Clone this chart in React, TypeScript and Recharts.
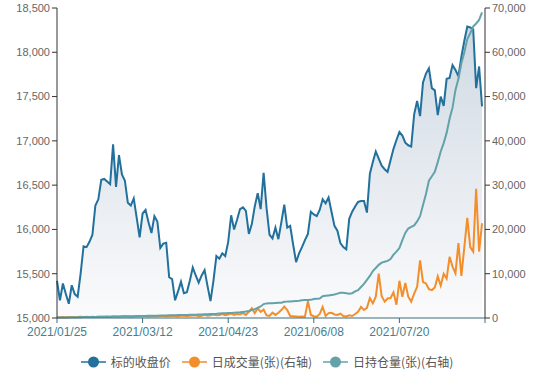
import { ComposedChart, Area, Line, XAxis, YAxis } from 'recharts';

const FONT = "'Noto Sans CJK SC', 'Noto Sans', sans-serif";
const AXIS_FONT = "'Liberation Sans', Arial, sans-serif";
const BLUE = '#22709c';
const ORANGE = '#f28e2b';
const TEAL = '#63a2aa';

// trading days, 2021
const tradeDays = (
  '01/25 01/26 01/27 01/28 01/29 ' +
  '02/01 02/02 02/03 02/04 02/05 02/08 02/09 02/10 02/18 02/19 02/22 02/23 02/24 02/25 02/26 ' +
  '03/01 03/02 03/03 03/04 03/05 03/08 03/09 03/10 03/11 03/12 03/15 03/16 03/17 03/18 03/19 03/22 03/23 03/24 03/25 03/26 03/29 03/30 03/31 ' +
  '04/01 04/02 04/06 04/07 04/08 04/09 04/12 04/13 04/14 04/15 04/16 04/19 04/20 04/21 04/22 04/23 04/26 04/27 04/28 04/29 04/30 ' +
  '05/06 05/07 05/10 05/11 05/12 05/13 05/14 05/17 05/18 05/19 05/20 05/21 05/24 05/25 05/26 05/27 05/28 05/31 ' +
  '06/01 06/02 06/03 06/04 06/07 06/08 06/09 06/10 06/11 06/15 06/16 06/17 06/18 06/21 06/22 06/23 06/24 06/25 06/28 06/29 06/30 ' +
  '07/01 07/02 07/05 07/06 07/07 07/08 07/09 07/12 07/13 07/14 07/15 07/16 07/19 07/20 07/21 07/22 07/23 07/26 07/27 07/28 07/29 07/30 ' +
  '08/02 08/03 08/04 08/05 08/06 08/09 08/10 08/11 08/12 08/13 08/16 08/17 08/18 08/19 08/20 08/23 08/24 08/25 08/26 08/27 08/30'
).split(' ');
const dates = tradeDays.map((d) => '2021/' + d);

// 标的收盘价
const closePrice = [
  15420, 15200, 15390, 15270, 15160, 15370, 15270, 15240, 15500, 15810,
  15800, 15860, 15940, 16270, 16340, 16560, 16570, 16540, 16510, 16960,
  16480, 16840, 16620, 16550, 16300, 16270, 16350, 16130, 15910, 16180,
  16220, 16080, 15960, 16150, 16090, 15790, 15840, 15850, 15460, 15440,
  15200, 15300, 15410, 15280, 15290, 15420, 15570, 15480, 15400, 15480,
  15540, 15360, 15190, 15420, 15700, 15670, 15730, 15700, 15860, 16160,
  16000, 16110, 16230, 16250, 16210, 15950, 16060, 16260, 16410, 16230,
  16640, 16240, 15940, 15900, 16020, 15890, 16080, 16280, 16020, 16040,
  15830, 15630, 15730, 15800, 15880, 15950, 16200, 16170, 16150, 16220,
  16340, 16295, 16360, 16200, 16040, 15985, 15845, 15800, 15775, 16120,
  16200, 16260, 16310, 16320, 16320, 16190, 16630, 16760, 16880, 16800,
  16720, 16680, 16650, 16780, 16910, 17010, 17100, 17060, 16980, 16950,
  16935, 17300, 17450, 17280, 17660, 17760, 17820, 17595, 17570, 17290,
  17500, 17395, 17700, 17710, 17855, 17800, 17730, 17950, 18130, 18290,
  18280, 18260, 17595, 17840, 17390, null,
];

// 日成交量(张)
const volume = [
  180, 150, 220, 160, 200, 240, 190, 210, 260, 230,
  280, 250, 300, 220, 260, 310, 280, 350, 300, 330,
  360, 290, 320, 380, 340, 300, 360, 410, 350, 380,
  420, 360, 400, 450, 380, 430, 470, 400, 440, 500,
  460, 420, 480, 520, 450, 500, 560, 600, 420, 500,
  700, 500, 620, 800, 600, 700, 900, 620, 800, 1000,
  700, 900, 800, 1100, 700, 1400, 2200, 1100, 2200, 1400,
  1900, 600, 450, 1200, 700, 1200, 1800, 2600, 1800, 450,
  400, 350, 300, 350, 300, 3800, 680, 400, 300, 900,
  2500, 450, 1100, 1200, 800, 700, 1000, 450, 350, 600,
  450, 900, 1400, 2500, 1800, 2300, 4500, 3300, 4800, 10000,
  4900, 3700, 4400, 4500, 5800, 3000, 8400, 4800, 7900, 4800,
  3700, 5500, 7000, 13000, 8100, 7800, 6500, 6300, 6900, 9400,
  7300, 10000, 8900, 13800, 11600, 10100, 16900, 9500, 16000, 22600,
  16000, 15000, 29200, 15000, 21400, null,
];

// 日持仓量(张)
const openInterest = [
  80, 90, 110, 120, 140, 150, 170, 160, 190, 200,
  210, 220, 240, 250, 260, 280, 290, 300, 310, 330,
  340, 350, 370, 380, 390, 410, 420, 430, 450, 460,
  470, 490, 500, 520, 530, 550, 560, 580, 600, 610,
  630, 650, 670, 680, 700, 720, 740, 760, 780, 800,
  830, 860, 890, 920, 950, 1000, 1050, 1080, 1120, 1150,
  1200, 1250, 1300, 1380, 1450, 1600, 1800, 2000, 2300, 2600,
  3150, 3300, 3320, 3350, 3400, 3420, 3450, 3680, 3700, 3750,
  3800, 3850, 3900, 4000, 4050, 4060, 4100, 4300, 4350, 4400,
  4900, 5000, 5100, 5200, 5300, 5500, 5700, 5700, 5600, 5500,
  5600, 6000, 6300, 7000, 7700, 8600, 9500, 10600, 11300, 12000,
  12500, 12700, 12900, 13300, 14300, 15000, 15800, 17600, 19200, 20200,
  20600, 20900, 21800, 23000, 25500, 28000, 31000, 32000, 33000, 35200,
  37600, 39500, 41800, 45000, 47500, 51500, 54000, 57500, 60000, 63000,
  64300, 65800, 66500, 67300, 69000, null,
];

const priceTicks = [15000, 15500, 16000, 16500, 17000, 17500, 18000, 18500];
const qtyTicks = [0, 10000, 20000, 30000, 40000, 50000, 60000, 70000];
const dateTicks = [0, 29, 58, 87, 116, 145].map((i) => dates[i]);

const legendItems = [
  { name: '标的收盘价', color: BLUE },
  { name: '日成交量(张)(右轴)', color: ORANGE },
  { name: '日持仓量(张)(右轴)', color: TEAL },
];

const data = dates.map((date, i) => ({
  date,
  close: closePrice[i],
  volume: volume[i],
  oi: openInterest[i],
}));

const fmt = (v: number) => v.toLocaleString('en-US');

function LegendBar() {
  return (
    <div
      style={{
        position: 'absolute',
        left: 0,
        top: 353,
        width: 534,
        display: 'flex',
        justifyContent: 'center',
        gap: 11,
        fontFamily: FONT,
        fontSize: 12,
        color: '#555',
      }}
    >
      {legendItems.map((it) => (
        <div key={it.name} style={{ display: 'flex', alignItems: 'center' }}>
          <svg width={25} height={14} style={{ marginRight: 5 }}>
            <line x1={0} y1={7} x2={25} y2={7} stroke={it.color} strokeWidth={2} strokeOpacity={0.75} />
            <circle cx={12.5} cy={7} r={5.5} fill={it.color} />
          </svg>
          <span>{it.name}</span>
        </div>
      ))}
    </div>
  );
}

export default function App() {
  return (
    <div style={{ position: 'absolute', left: 0, top: 0, width: 534, height: 376, background: '#fff' }}>
      <ComposedChart
        width={534}
        height={376}
        data={data}
        margin={{ top: 8, right: 0, bottom: 28, left: 0 }}
      >
        <defs>
          <linearGradient id='closeFill' x1='0' y1='0' x2='0' y2='1'>
            <stop offset='0%' stopColor='#cfd9e3' />
            <stop offset='100%' stopColor='#fbfbfc' />
          </linearGradient>
        </defs>
        <XAxis
          dataKey='date'
          scale='point'
          ticks={dateTicks}
          interval={0}
          height={30}
          tickSize={5}
          tickMargin={4}
          tickFormatter={(v: string) => (v === dates[dates.length - 1] ? '' : v)}
          tick={{ fill: '#45808f', fontSize: 12, fontFamily: AXIS_FONT }}
          axisLine={{ stroke: '#3b6b78' }}
          tickLine={{ stroke: '#3b6b78' }}
        />
        <YAxis
          yAxisId='left'
          width={57}
          domain={[15000, 18500]}
          ticks={priceTicks}
          allowDataOverflow
          tickFormatter={fmt}
          tickSize={5}
          tick={{ fill: '#666', fontSize: 11, fontFamily: AXIS_FONT }}
          axisLine={{ stroke: '#333' }}
          tickLine={{ stroke: '#333' }}
        />
        <YAxis
          yAxisId='right'
          orientation='right'
          width={49}
          domain={[0, 70000]}
          ticks={qtyTicks}
          tickFormatter={fmt}
          tickSize={5}
          tick={{ fill: '#666', fontSize: 11, fontFamily: AXIS_FONT }}
          axisLine={{ stroke: '#333' }}
          tickLine={{ stroke: '#333' }}
        />
        <Area
          yAxisId='left'
          type='linear'
          dataKey='close'
          stroke={BLUE}
          strokeWidth={2}
          fill='url(#closeFill)'
          fillOpacity={1}
          dot={false}
          activeDot={false}
          isAnimationActive={false}
        />
        <Line
          yAxisId='right'
          type='linear'
          dataKey='volume'
          stroke={ORANGE}
          strokeWidth={2}
          dot={false}
          activeDot={false}
          isAnimationActive={false}
        />
        <Line
          yAxisId='right'
          type='linear'
          dataKey='oi'
          stroke={TEAL}
          strokeWidth={2}
          dot={false}
          activeDot={false}
          isAnimationActive={false}
        />
      </ComposedChart>
      <LegendBar />
    </div>
  );
}
